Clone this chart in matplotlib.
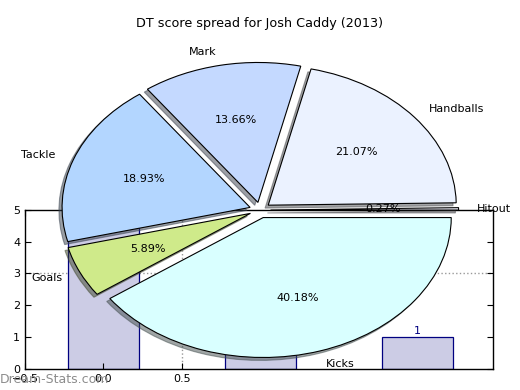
import matplotlib
matplotlib.use("Agg")
import matplotlib.pyplot as plt

# pie data (share of DT score)
labels = ["Hitout", "Handballs", "Mark", "Tackle", "Goals", "Kicks"]
shares = [0.27, 21.07, 13.66, 18.93, 5.89, 40.18]
colors = ["#F4F4FF", "#EBF2FF", "#C4D9FF", "#B3D6FF", "#CFEA8A", "#D9FFFF"]

# leftover bar chart behind the pie
bar_x = [0, 1, 2]
bar_h = [5, 3, 1]
bar_text = ["5", "3", "1"]

fig = plt.figure(figsize=(5.2, 3.9), dpi=100)

# bar axes (drawn first, sits behind the pie)
axb = fig.add_axes([0.048, 0.054, 0.9, 0.408])
axb.bar(bar_x, bar_h, width=0.45, align="center", color="#CCCCE5",
        edgecolor="#000080", linewidth=0.9)
for x, h, t in zip(bar_x, bar_h, bar_text):
    axb.text(x, h + 0.05, t, ha="center", va="bottom", color="#000080", fontsize=8)
axb.set_xlim(-0.5, 2.48)
axb.set_ylim(0, 5)
axb.set_xticks([-0.5, 0.0, 0.5])
axb.set_yticks([0, 1, 2, 3, 4, 5])
axb.tick_params(direction="in", right=True, top=True, labelsize=8, length=4)
axb.axhline(3, color="#999999", ls=":", lw=1, zorder=0.5)
for gx in [0.0, 0.5]:
    axb.axvline(gx, color="#999999", ls=":", lw=1, zorder=0.5)
for s in axb.spines.values():
    s.set_linewidth(1)

# pie axes on top, transparent
axp = fig.add_axes([0.048, 0.0128, 0.904, 0.897])
axp.patch.set_alpha(0)
wedges, texts, autotexts = axp.pie(
    shares, labels=labels, colors=colors, explode=[0.056] * len(shares),
    autopct="%1.2f%%", shadow=dict(ox=-0.012, oy=-0.015), startangle=0,
    wedgeprops=dict(edgecolor="black", linewidth=0.8),
    textprops=dict(fontsize=8))
axp.set_aspect("auto")
axp.set_xlim(-1.25, 1.25)
axp.set_ylim(-1.25, 1.25)
axp.set_title("DT score spread for Josh Caddy (2013)", fontsize=9.2)

fig.text(0.0, 0.028, "Dream-Stats.com", color="#8C8C8C", fontsize=9,
         ha="left", va="center")

fig.savefig("out.png", dpi=100)
